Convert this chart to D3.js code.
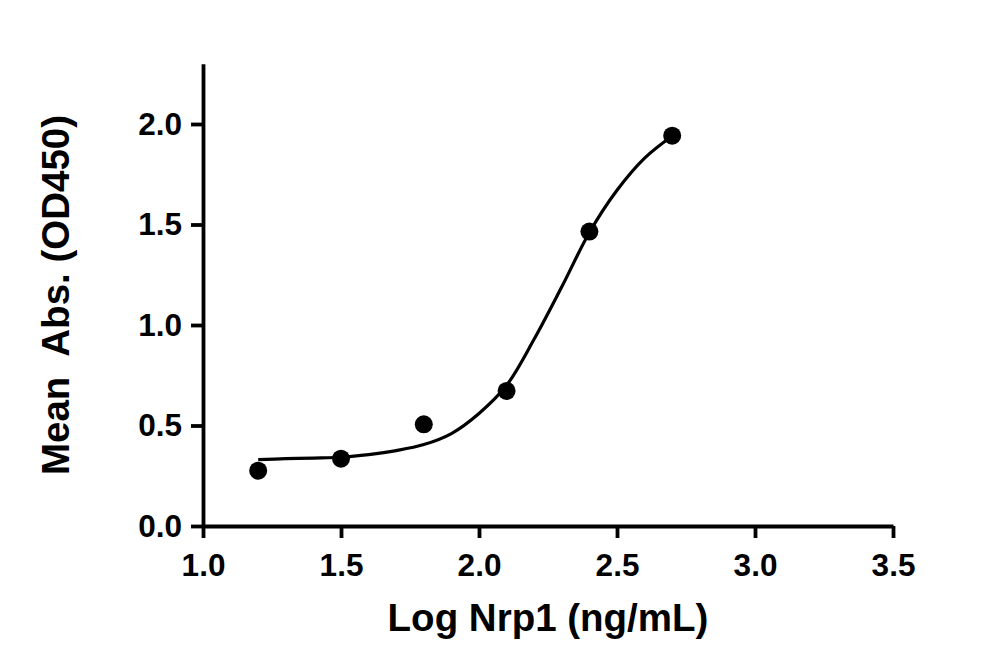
<!DOCTYPE html>
<html>
<head>
<meta charset="utf-8">
<title>Nrp1 binding curve</title>
<script src="https://d3js.org/d3.v7.min.js"></script>
<style>
    body { margin: 0; background: #fff; }
    svg { display: block; }
    .axis path, .axis line { stroke: #000; stroke-width: 3.8; }
    .axis text { font-family: "Liberation Sans", Arial, sans-serif; font-weight: bold; font-size: 31.5px; fill: #000; }
    .title { font-family: "Liberation Sans", Arial, sans-serif; font-weight: bold; font-size: 38.5px; fill: #000; }
</style>
</head>
<body>
<script>
// measured points
var logConc = [1.2, 1.5, 1.8, 2.1, 2.4, 2.7];
var meanAbs = [0.275, 0.335, 0.506, 0.672, 1.465, 1.942];

// fitted curve
var fitX = [1.2, 1.3, 1.4, 1.5, 1.6, 1.7, 1.8, 1.9, 2.0, 2.1, 2.2, 2.3, 2.4, 2.5, 2.6, 2.7];
var fitY = [0.33, 0.335, 0.338, 0.342, 0.355, 0.375, 0.405, 0.46, 0.56, 0.70, 0.93, 1.19, 1.46, 1.67, 1.83, 1.94];

var xTicks = [1.0, 1.5, 2.0, 2.5, 3.0, 3.5];
var yTicks = [0.0, 0.5, 1.0, 1.5, 2.0];

var width = 1000, height = 670;

var svg = d3.select("body").append("svg")
    .attr("width", width).attr("height", height);

var x = d3.scaleLinear().domain([1.0, 3.5]).range([203, 893]);
var y = d3.scaleLinear().domain([0, 2.3]).range([526, 63.7]);

svg.append("g")
    .attr("class", "axis")
    .attr("transform", "translate(0,526)")
    .call(d3.axisBottom(x).tickValues(xTicks).tickFormat(d3.format(".1f"))
        .tickSize(12).tickSizeOuter(0).tickPadding(16));

svg.append("g")
    .attr("class", "axis")
    .attr("transform", "translate(203,0)")
    .call(d3.axisLeft(y).tickValues(yTicks).tickFormat(d3.format(".1f"))
        .tickSize(12).tickSizeOuter(0).tickPadding(9));

var line = d3.line()
    .x(function(d, i){ return x(fitX[i]); })
    .y(function(d, i){ return y(fitY[i]); })
    .curve(d3.curveCatmullRom.alpha(0.5));

svg.append("path")
    .datum(fitX)
    .attr("d", line)
    .attr("fill", "none")
    .attr("stroke", "#000")
    .attr("stroke-width", 3.2);

svg.selectAll("circle.pt")
    .data(logConc)
    .enter().append("circle")
    .attr("class", "pt")
    .attr("cx", function(d){ return x(d); })
    .attr("cy", function(d, i){ return y(meanAbs[i]); })
    .attr("r", 9)
    .attr("fill", "#000");

svg.append("text")
    .attr("class", "title")
    .attr("x", 548).attr("y", 631)
    .attr("text-anchor", "middle")
    .text("Log Nrp1 (ng/mL)");

svg.append("text")
    .attr("class", "title")
    .attr("transform", "translate(69,295) rotate(-90)")
    .attr("text-anchor", "middle")
    .style("white-space", "pre")
    .text("Mean  Abs. (OD450)");
</script>
</body>
</html>
